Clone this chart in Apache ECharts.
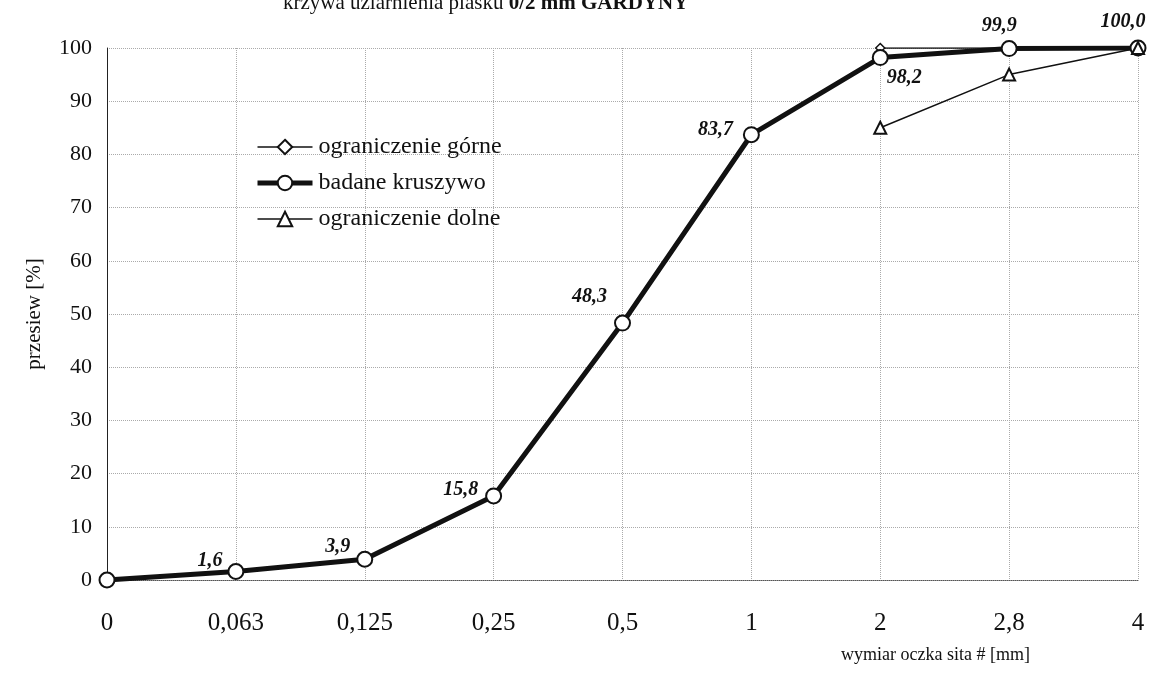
<!DOCTYPE html>
<html>
<head>
<meta charset="utf-8">
<script src="https://cdn.jsdelivr.net/npm/echarts@6/dist/echarts.min.js"></script>
<style>
  html, body { margin: 0; padding: 0; background: #fff; }
  #main { width: 1176px; height: 688px; }
</style>
</head>
<body>
<div id="main"></div>
<script>
// sita (mm) i przesiewy
var sieves = ['0', '0,063', '0,125', '0,25', '0,5', '1', '2', '2,8', '4'];
var badane = [0, 1.6, 3.9, 15.8, 48.3, 83.7, 98.2, 99.9, 100.0];
var gorne = [null, null, null, null, null, null, 100, 100, 100];
var dolne = [null, null, null, null, null, null, 85, 95, 100];
var yTicks = [0, 10, 20, 30, 40, 50, 60, 70, 80, 90, 100];

// przesuniecie etykiety wzgledem punktu
var labelOff = [
  null,
  [-26, -11],
  [-27, -12],
  [-33, -6],
  [-33, -26],
  [-36, -5],
  [24, 20],
  [-10, -23],
  [-15, -26]
];

var serif = '"Liberation Serif", "DejaVu Serif", serif';

var mainData = badane.map(function (v, i) {
  var d = { value: v };
  if (labelOff[i] == null) {
    d.label = { show: false };
  } else {
    d.label = { position: 'inside', offset: labelOff[i] };
  }
  return d;
});

var chart = echarts.init(document.getElementById('main'));

var option = {
  animation: false,
  backgroundColor: '#fff',
  title: {
    text: '{n|krzywa uziarnienia piasku }{b|0/2 mm GARDYNY}',
    left: 283,
    top: -7,
    padding: 0,
    textStyle: {
      rich: {
        n: { fontFamily: serif, fontSize: 21, fontWeight: 'normal', color: '#111' },
        b: { fontFamily: serif, fontSize: 21, fontWeight: 'bold', color: '#111' }
      }
    }
  },
  legend: {
    orient: 'vertical',
    left: 250,
    top: 130,
    itemGap: 12,
    itemWidth: 55,
    itemHeight: 18,
    textStyle: { fontFamily: serif, fontSize: 24, color: '#111', padding: [0, 0, 0, 1] },
    data: [
      { name: 'ograniczenie górne', lineStyle: { width: 1.5 } },
      { name: 'badane kruszywo', lineStyle: { width: 5 } },
      { name: 'ograniczenie dolne', lineStyle: { width: 1.5 } }
    ]
  },
  grid: { left: 107, right: 38, top: 48, bottom: 108 },
  xAxis: {
    type: 'category',
    data: sieves,
    boundaryGap: false,
    name: 'wymiar oczka sita # [mm]',
    nameLocation: 'end',
    nameGap: 0,
    nameTextStyle: {
      fontFamily: serif, fontSize: 18, color: '#111',
      align: 'right', verticalAlign: 'top', padding: [66, 108, 0, 0]
    },
    axisLine: { lineStyle: { color: '#555', type: 'dotted', width: 1 } },
    axisTick: { show: false },
    axisLabel: { fontFamily: serif, fontSize: 25, color: '#111', margin: 31 },
    splitLine: { show: true, lineStyle: { color: '#aaa', type: 'dotted', width: 1 } }
  },
  yAxis: {
    type: 'value',
    min: yTicks[0],
    max: yTicks[yTicks.length - 1],
    interval: 10,
    name: 'przesiew [%]',
    nameLocation: 'middle',
    nameGap: 62,
    nameTextStyle: { fontFamily: serif, fontSize: 21, color: '#111' },
    axisLine: { show: true, lineStyle: { color: '#222', width: 1 } },
    axisTick: { show: false },
    axisLabel: { fontFamily: serif, fontSize: 22, color: '#111', margin: 15 },
    splitLine: { show: true, lineStyle: { color: '#aaa', type: 'dotted', width: 1 } }
  },
  series: [
    {
      name: 'ograniczenie górne',
      type: 'line',
      data: gorne,
      symbol: 'diamond',
      symbolSize: 9,
      itemStyle: { color: '#fff', borderColor: '#111', borderWidth: 1.5 },
      lineStyle: { color: '#111', width: 1.5 }
    },
    {
      name: 'badane kruszywo',
      type: 'line',
      data: mainData,
      symbol: 'circle',
      symbolSize: 15,
      itemStyle: { color: '#fff', borderColor: '#111', borderWidth: 2 },
      lineStyle: { color: '#111', width: 5 },
      label: {
        show: true,
        fontFamily: serif,
        fontStyle: 'italic',
        fontWeight: 'bold',
        fontSize: 20,
        color: '#111',
        formatter: function (p) { return p.value.toFixed(1).replace('.', ','); }
      }
    },
    {
      name: 'ograniczenie dolne',
      type: 'line',
      data: dolne,
      symbol: 'triangle',
      symbolSize: 12,
      itemStyle: { color: '#fff', borderColor: '#111', borderWidth: 2 },
      lineStyle: { color: '#111', width: 1.5 }
    }
  ]
};

chart.setOption(option);
</script>
</body>
</html>
